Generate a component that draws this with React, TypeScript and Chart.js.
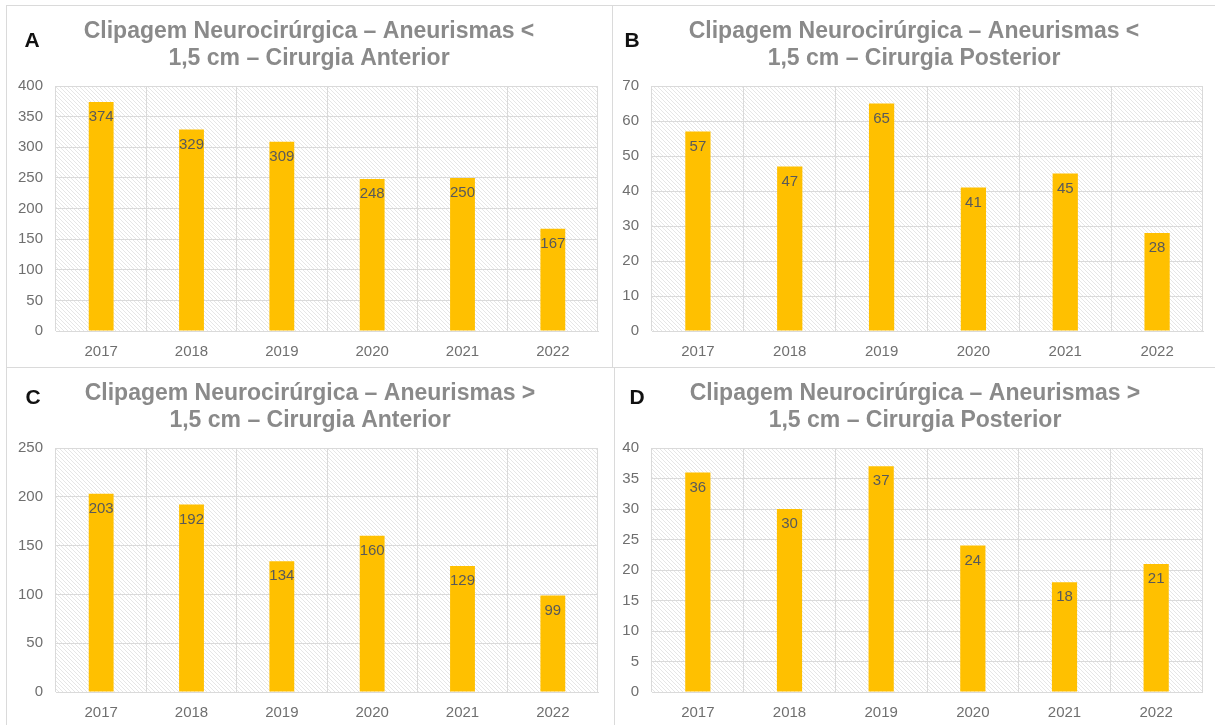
import React, { useEffect, useRef } from "react";
import { Chart, registerables } from "chart.js";

Chart.register(...registerables);

// Years on the category axis (shared by all four panels)
const years = ["2017", "2018", "2019", "2020", "2021", "2022"];

// Surgery counts per panel
const anteriorSmall = [374, 329, 309, 248, 250, 167];
const posteriorSmall = [57, 47, 65, 41, 45, 28];
const anteriorLarge = [203, 192, 134, 160, 129, 99];
const posteriorLarge = [36, 30, 37, 24, 18, 21];

// Panel titles
const titleA = ["Clipagem Neurocirúrgica – Aneurismas <", "1,5 cm – Cirurgia Anterior"];
const titleB = ["Clipagem Neurocirúrgica – Aneurismas <", "1,5 cm – Cirurgia Posterior"];
const titleC = ["Clipagem Neurocirúrgica – Aneurismas >", "1,5 cm – Cirurgia Anterior"];
const titleD = ["Clipagem Neurocirúrgica – Aneurismas >", "1,5 cm – Cirurgia Posterior"];

// Y axis ranges [max, step]
const axisA = [400, 50];
const axisB = [70, 10];
const axisC = [250, 50];
const axisD = [40, 5];

const FONT = "'Liberation Sans', Arial, sans-serif";
const GRID = "#dadada";
const BAR = "#FFC000";

type Rect = { left: number; top: number; width: number; height: number };
type Plot = { left: number; top: number; right: number; bottom: number };

// Fine diagonal hatch used as the plot-area fill
function makeHatch(): CanvasPattern | string {
  const s = 4;
  const c = document.createElement("canvas");
  c.width = s;
  c.height = s;
  const g = c.getContext("2d");
  if (!g) return "#f3f3f3";
  g.fillStyle = "#ffffff";
  g.fillRect(0, 0, s, s);
  g.strokeStyle = "#e3e3e3";
  g.lineWidth = 0.9;
  g.beginPath();
  g.moveTo(-1, -1);
  g.lineTo(s + 1, s + 1);
  g.moveTo(-1, s - 1);
  g.lineTo(1, s + 1);
  g.moveTo(s - 1, -1);
  g.lineTo(s + 1, 1);
  g.stroke();
  const p = g.createPattern(c, "repeat");
  return p || "#f3f3f3";
}

type PanelProps = {
  letter: string;
  title: string[];
  values: number[];
  axis: number[];
  rect: Rect;
  plot: Plot;
  letterPos: [number, number];
  titleY: [number, number];
};

function Panel({ letter, title, values, axis, rect, plot, letterPos, titleY }: PanelProps) {
  const ref = useRef<HTMLCanvasElement>(null);

  useEffect(() => {
    const canvas = ref.current;
    if (!canvas) return;
    const hatch = makeHatch();

    const hatchPlugin = {
      id: "hatchBackground",
      beforeDraw(chart: any) {
        const { ctx, chartArea } = chart;
        ctx.save();
        ctx.fillStyle = hatch;
        ctx.fillRect(chartArea.left, chartArea.top, chartArea.right - chartArea.left, chartArea.bottom - chartArea.top);
        ctx.restore();
      },
    };

    const valueLabels = {
      id: "valueLabels",
      afterDatasetsDraw(chart: any) {
        const { ctx } = chart;
        const meta = chart.getDatasetMeta(0);
        ctx.save();
        ctx.font = `15px ${FONT}`;
        ctx.fillStyle = "#595959";
        ctx.textAlign = "center";
        ctx.textBaseline = "middle";
        meta.data.forEach((bar: any, i: number) => {
          ctx.fillText(String(values[i]), bar.x, bar.y + 15);
        });
        ctx.restore();
      },
    };

    const header = {
      id: "panelHeader",
      afterDraw(chart: any) {
        const { ctx, width } = chart;
        ctx.save();
        ctx.textBaseline = "middle";
        ctx.textAlign = "center";
        ctx.font = `bold 21px ${FONT}`;
        ctx.fillStyle = "#111111";
        ctx.fillText(letter, letterPos[0], letterPos[1]);
        ctx.fillStyle = "#8a8a8a";
        ctx.font = `bold 23px ${FONT}`;
        ctx.fillText(title[0], width / 2, titleY[0]);
        ctx.fillText(title[1], width / 2, titleY[1]);
        ctx.restore();
      },
    };

    const chart = new Chart(canvas, {
      type: "bar",
      data: {
        labels: years,
        datasets: [
          {
            data: values,
            backgroundColor: BAR,
            borderWidth: 0,
            categoryPercentage: 1,
            barPercentage: 0.275,
          },
        ],
      },
      options: {
        responsive: false,
        maintainAspectRatio: false,
        animation: false,
        layout: {
          padding: { left: 0, top: plot.top, right: rect.width - plot.right, bottom: 0 },
        },
        plugins: {
          legend: { display: false },
          tooltip: { enabled: false },
          title: { display: false },
        },
        scales: {
          x: {
            offset: true,
            grid: { color: GRID, drawTicks: false, offset: true },
            border: { color: GRID },
            ticks: { color: "#6f6f6f", font: { family: FONT, size: 15 }, padding: 12 },
            afterFit(scale: any) {
              scale.height = rect.height - plot.bottom;
            },
          },
          y: {
            min: 0,
            max: axis[0],
            grid: { color: GRID, drawTicks: false },
            border: { display: false },
            ticks: {
              stepSize: axis[1],
              color: "#6f6f6f",
              font: { family: FONT, size: 15 },
              padding: 13,
            },
            afterFit(scale: any) {
              scale.width = plot.left;
            },
          },
        },
      },
      plugins: [hatchPlugin, valueLabels, header],
    });

    return () => chart.destroy();
  }, []);

  return (
    <canvas
      ref={ref}
      width={rect.width}
      height={rect.height}
      style={{ position: "absolute", left: rect.left, top: rect.top, width: rect.width, height: rect.height }}
    />
  );
}

const frame = (left: number, top: number, width: number, height: number): React.CSSProperties => ({
  position: "absolute",
  left,
  top,
  width,
  height,
  border: `1px solid ${GRID}`,
  boxSizing: "border-box",
});

export default function App() {
  useEffect(() => {
    document.body.style.margin = "0";
  }, []);

  return (
    <div
      style={{
        position: "fixed",
        left: 0,
        top: 0,
        width: 1215,
        height: 725,
        background: "#ffffff",
        overflow: "hidden",
      }}
    >
      <div style={frame(6, 5, 607, 363)} />
      <div style={frame(612, 5, 612, 363)} />
      <div style={frame(6, 367, 609, 370)} />
      <div style={frame(614, 367, 612, 370)} />

      <Panel
        letter="A"
        title={titleA}
        values={anteriorSmall}
        axis={axisA}
        rect={{ left: 7, top: 6, width: 604, height: 360 }}
        plot={{ left: 49, top: 80, right: 591, bottom: 325 }}
        letterPos={[25, 35]}
        titleY={[26, 53]}
      />
      <Panel
        letter="B"
        title={titleB}
        values={posteriorSmall}
        axis={axisB}
        rect={{ left: 613, top: 6, width: 602, height: 360 }}
        plot={{ left: 39, top: 80, right: 590, bottom: 325 }}
        letterPos={[19, 35]}
        titleY={[26, 53]}
      />
      <Panel
        letter="C"
        title={titleC}
        values={anteriorLarge}
        axis={axisC}
        rect={{ left: 7, top: 368, width: 606, height: 357 }}
        plot={{ left: 49, top: 80, right: 591, bottom: 324 }}
        letterPos={[26, 30]}
        titleY={[26, 53]}
      />
      <Panel
        letter="D"
        title={titleD}
        values={posteriorLarge}
        axis={axisD}
        rect={{ left: 615, top: 368, width: 600, height: 357 }}
        plot={{ left: 37, top: 80, right: 587, bottom: 324 }}
        letterPos={[22, 30]}
        titleY={[26, 53]}
      />
    </div>
  );
}
